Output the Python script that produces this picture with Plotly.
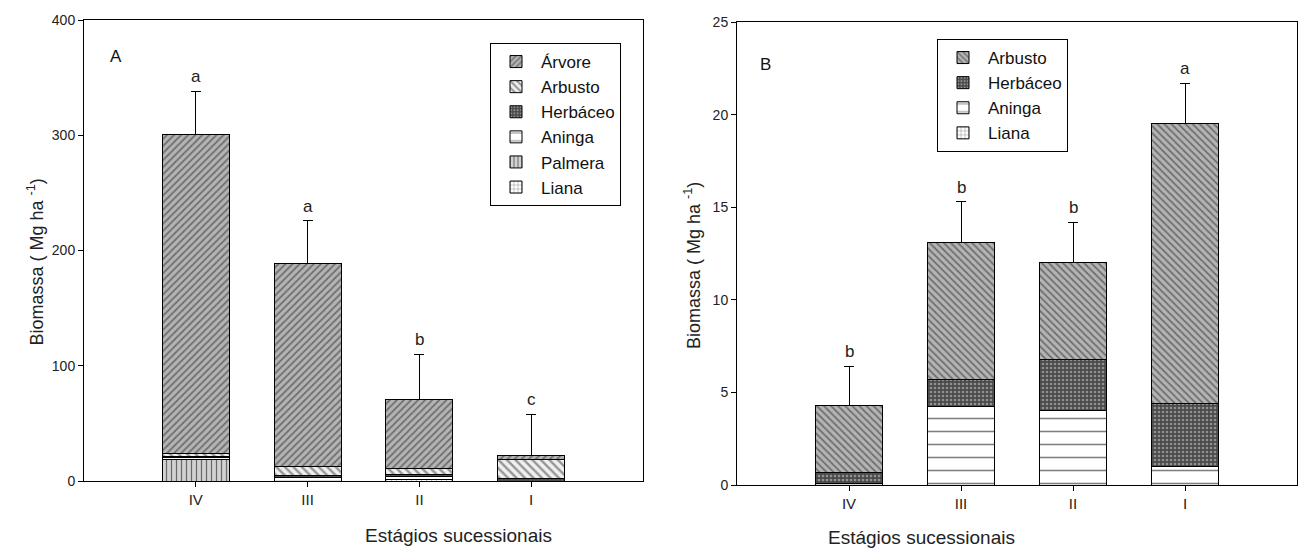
import plotly.graph_objects as go

# ---------------- data ----------------
stages = ["IV", "III", "II", "I"]

# Panel A (Mg ha-1), stacked bottom -> top
a_liana    = [0.0, 0.0, 1.0, 0.0]
a_palmera  = [19.0, 0.0, 0.0, 0.0]
a_aninga   = [1.5, 3.0, 3.0, 0.0]
a_herbaceo = [0.5, 1.5, 2.0, 2.5]
a_arbusto  = [2.5, 8.0, 5.0, 16.0]
a_arvore   = [277.5, 176.5, 60.0, 3.5]
a_err      = [37.0, 37.0, 39.0, 36.0]
a_letters  = ["a", "a", "b", "c"]

# Panel B (Mg ha-1), stacked bottom -> top
b_liana    = [0.0, 0.0, 0.0, 0.0]
b_aninga   = [0.1, 4.25, 4.0, 1.0]
b_herbaceo = [0.6, 1.45, 2.75, 3.4]
b_arbusto  = [3.6, 7.4, 5.25, 15.1]
b_err      = [2.1, 2.2, 2.2, 2.2]
b_letters  = ["b", "b", "b", "a"]

FONT = "Arial, Liberation Sans, sans-serif"
W, H = 1304, 560

def px_x(p):
    return p / W

def px_y(p):
    return 1 - p / H

pat = {
    "Árvore":   dict(shape="/", fgcolor="#2a2a2a", bgcolor="#b4b4b4", size=5, solidity=0.35),
    "ArbustoA": dict(shape="\\", fgcolor="#3a3a3a", bgcolor="#f0f0f0", size=6, solidity=0.4),
    "ArbustoB": dict(shape="\\", fgcolor="#2a2a2a", bgcolor="#b4b4b4", size=5, solidity=0.35),
    "Herbáceo": dict(shape=".", fgcolor="#d8d8d8", bgcolor="#4a4a4a", size=4, solidity=0.35),
    "Aninga":   dict(shape="-", fgcolor="#000000", bgcolor="#ffffff", size=13, solidity=0.12),
    "Palmera":  dict(shape="|", fgcolor="#000000", bgcolor="#d2d2d2", size=5, solidity=0.25),
    "Liana":    dict(shape="+", fgcolor="#000000", bgcolor="#ffffff", size=5, solidity=0.2),
}

fig = go.Figure()

def add_bar(name, y, p, xa, ya, leg, err=None):
    kw = {}
    if err is not None:
        kw["error_y"] = dict(type="data", symmetric=False, array=err,
                             arrayminus=[0] * len(err), color="#000000",
                             thickness=1, width=5)
    fig.add_trace(go.Bar(
        x=stages, y=y, name=name, xaxis=xa, yaxis=ya, legend=leg,
        marker=dict(color=p["bgcolor"], pattern=p,
                    line=dict(color="#000000", width=1)),
        **kw))

# Panel A traces (bottom -> top)
add_bar("Liana", a_liana, pat["Liana"], "x", "y", "legend")
add_bar("Palmera", a_palmera, pat["Palmera"], "x", "y", "legend")
add_bar("Aninga", a_aninga, pat["Aninga"], "x", "y", "legend")
add_bar("Herbáceo", a_herbaceo, pat["Herbáceo"], "x", "y", "legend")
add_bar("Arbusto", a_arbusto, pat["ArbustoA"], "x", "y", "legend")
add_bar("Árvore", a_arvore, pat["Árvore"], "x", "y", "legend", err=a_err)

# Panel B traces (bottom -> top)
add_bar("Liana", b_liana, pat["Liana"], "x2", "y2", "legend2")
add_bar("Aninga", b_aninga, pat["Aninga"], "x2", "y2", "legend2")
add_bar("Herbáceo", b_herbaceo, pat["Herbáceo"], "x2", "y2", "legend2")
add_bar("Arbusto", b_arbusto, pat["ArbustoB"], "x2", "y2", "legend2", err=b_err)

axis_common = dict(showline=True, linecolor="#000000", linewidth=1, mirror=True,
                   ticks="outside", ticklen=5, tickcolor="#000000",
                   showgrid=False, zeroline=False, automargin=False)
ytick_font = dict(family=FONT, size=14, color="#222222")
xtick_font = dict(family=FONT, size=15, color="#222222")

annotations = []
# significance letters
for xa, ya, parts, err, letters in [
        ("x", "y", [a_liana, a_palmera, a_aninga, a_herbaceo, a_arbusto, a_arvore], a_err, a_letters),
        ("x2", "y2", [b_liana, b_aninga, b_herbaceo, b_arbusto], b_err, b_letters)]:
    for i, s in enumerate(stages):
        top = sum(p[i] for p in parts) + err[i]
        annotations.append(dict(x=s, y=top, xref=xa, yref=ya, text=letters[i],
                                showarrow=False, yanchor="bottom", yshift=3,
                                font=dict(family=FONT, size=17, color="#222222")))

annotations += [
    dict(x=px_x(108), y=px_y(45), xref="paper", yref="paper", text="A", showarrow=False,
         font=dict(family=FONT, size=17, color="#111111")),
    dict(x=px_x(765), y=px_y(53), xref="paper", yref="paper", text="B", showarrow=False,
         font=dict(family=FONT, size=17, color="#111111")),
    dict(x=px_x(363), y=px_y(548), xref="paper", yref="paper", text="Estágios sucessionais",
         showarrow=False, font=dict(family=FONT, size=19, color="#222222")),
    dict(x=px_x(1017), y=px_y(550), xref="paper", yref="paper", text="Estágios sucessionais",
         showarrow=False, font=dict(family=FONT, size=19, color="#222222")),
    dict(x=px_x(22), y=px_y(262), xref="paper", yref="paper",
         text="Biomassa ( Mg ha <sup>-1</sup>)", textangle=-90,
         showarrow=False, font=dict(family=FONT, size=18, color="#222222")),
    dict(x=px_x(692), y=px_y(266), xref="paper", yref="paper",
         text="Biomassa ( Mg ha <sup>-1</sup>)", textangle=-90,
         showarrow=False, font=dict(family=FONT, size=18, color="#222222")),
]

legend_common = dict(bgcolor="#ffffff", bordercolor="#000000", borderwidth=1,
                     traceorder="reversed", tracegroupgap=0,
                     font=dict(family=FONT, size=17, color="#111111"),
                     xanchor="left", yanchor="top", itemwidth=40)

fig.update_layout(
    width=W, height=H,
    margin=dict(l=0, r=0, t=0, b=0, autoexpand=False),
    paper_bgcolor="#ffffff", plot_bgcolor="#ffffff",
    barmode="stack", bargap=0.4,
    xaxis=dict(domain=[px_x(84), px_x(643)], range=[-1, 4], type="category",
               anchor="y", tickfont=xtick_font, **axis_common),
    yaxis=dict(domain=[px_y(481), px_y(20)], range=[0, 400],
               tickvals=[0, 100, 200, 300, 400], anchor="x", tickfont=ytick_font,
               **axis_common),
    xaxis2=dict(domain=[px_x(737), px_x(1297)], range=[-1, 4], type="category",
                anchor="y2", tickfont=xtick_font, **axis_common),
    yaxis2=dict(domain=[px_y(485), px_y(22)], range=[0, 25],
                tickvals=[0, 5, 10, 15, 20, 25], anchor="x2", tickfont=ytick_font,
                **axis_common),
    legend=dict(x=px_x(490), y=px_y(43), **legend_common),
    legend2=dict(x=px_x(937), y=px_y(39), **legend_common),
    annotations=annotations,
    showlegend=True,
)

fig.write_html("out.html", config={"displayModeBar": False},
               post_script="document.body.style.margin='0';document.body.style.padding='0';")
